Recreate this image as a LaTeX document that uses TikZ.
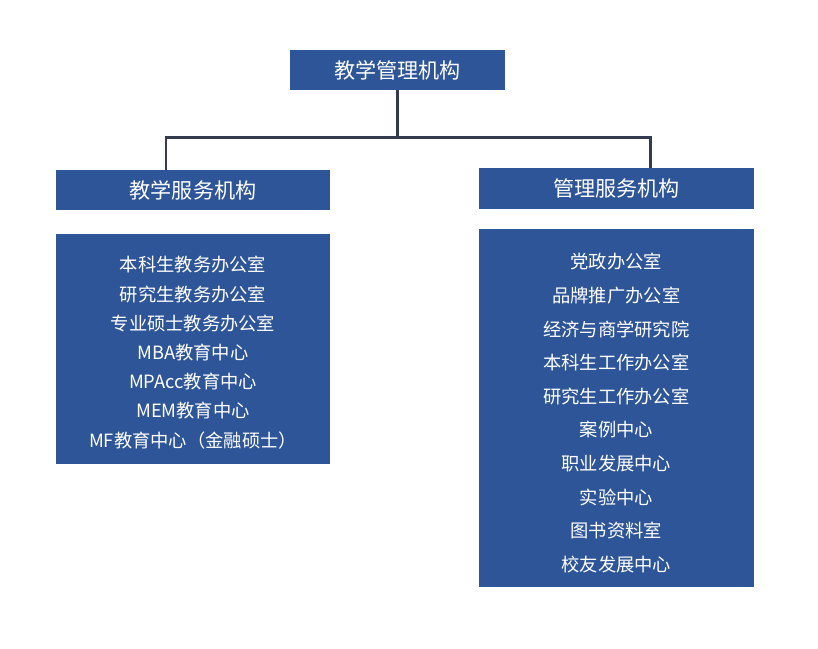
\documentclass[tikz,border=0pt]{standalone}
\usepackage{fontspec}
\setmainfont{Noto Sans CJK SC}
\usepackage{tikz}
\usetikzlibrary{positioning,calc}
\definecolor{orgBlue}{HTML}{2E5597}
\definecolor{orgLine}{HTML}{353B4E}

\begin{document}
\begin{tikzpicture}[
  head/.style={fill=orgBlue,text=white,inner sep=0pt,align=center,
               font=\fontsize{15pt}{18pt}\selectfont},
  unitbox/.style={fill=orgBlue,inner sep=0pt},
  unittext/.style={text=white,inner sep=0pt,align=center},
  tree/.style={draw=orgLine,line width=2.1pt}
]
\useasboundingbox (0,0) rectangle (20.45,-16.2);

\node[head,minimum width=5.375cm,minimum height=1.0cm] (top) at (9.94,-1.75) {教学管理机构};
\node[head,minimum width=6.85cm,minimum height=1.0cm] (teach) at (4.825,-4.75) {教学服务机构};
\node[head,minimum width=6.875cm,minimum height=1.025cm] (manage) at (15.41,-4.71) {管理服务机构};

% unit lists
\node[unitbox,minimum width=6.85cm,minimum height=5.75cm] (teachlist) at (4.825,-8.725) {};
\node[unittext,font=\fontsize{13pt}{20.8pt}\selectfont] (teachunits)
  at ($(teachlist.center)+(0,-0.09)$)
  {本科生教务办公室\\研究生教务办公室\\专业硕士教务办公室\\MBA教育中心\\MPAcc教育中心\\MEM教育中心\\MF教育中心（金融硕士）};
\node[unitbox,minimum width=6.875cm,minimum height=8.95cm] (managelist) at (15.41,-10.2) {};
\node[unittext,font=\fontsize{13pt}{23.9pt}\selectfont] (manageunits)
  at ($(managelist.center)+(0,-0.125)$)
  {党政办公室\\品牌推广办公室\\经济与商学研究院\\本科生工作办公室\\研究生工作办公室\\案例中心\\职业发展中心\\实验中心\\图书资料室\\校友发展中心};

% connectors
\coordinate (bus) at ($(top.south)+(0,-1.175)$);
\coordinate (teachin) at ($(teach.north)+(-0.675,0)$);
\coordinate (managein) at ($(manage.north)+(0.8625,0)$);
\draw[tree] (top.south) -- (bus);
\draw[tree] (bus) -| (teachin);
\draw[tree] (bus) -| (managein);
\end{tikzpicture}
\end{document}
